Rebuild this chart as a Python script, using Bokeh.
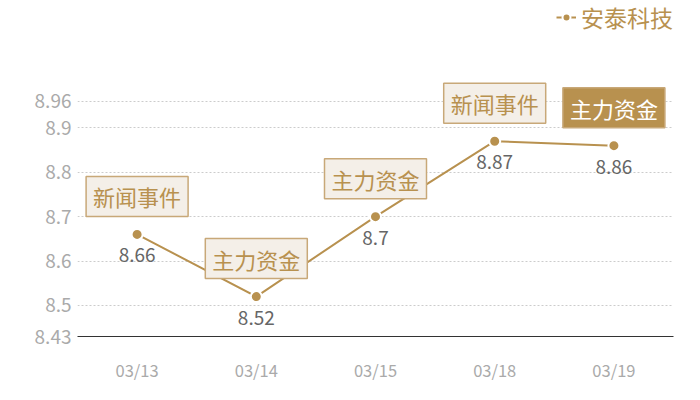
from bokeh.core.properties import value
from bokeh.embed import file_html
from bokeh.models import FixedTicker, Legend, LegendItem
from bokeh.plotting import figure
from bokeh.resources import INLINE

dates = ["03/13", "03/14", "03/15", "03/18", "03/19"]
prices = [8.66, 8.52, 8.7, 8.87, 8.86]
tags = ["新闻事件", "主力资金", "主力资金", "新闻事件", "主力资金"]
tag_fill = ["#f4efe8", "#f4efe8", "#f4efe8", "#f4efe8", "#b8914f"]
tag_text = ["#b8914f", "#b8914f", "#b8914f", "#b8914f", "#ffffff"]
yticks = [8.43, 8.5, 8.6, 8.7, 8.8, 8.9, 8.96]

gold = "#b8914f"
font = "Noto Sans CJK SC"

p = figure(x_range=dates, y_range=(8.43, 9.187), width=684, height=384,
           output_backend="svg", toolbar_location=None, tools="",
           min_border_left=77, min_border_right=11, min_border_top=0, min_border_bottom=31)
p.outline_line_color = None
p.x_range.range_padding = 0

p.xgrid.grid_line_color = None
p.ygrid.ticker = FixedTicker(ticks=yticks)
p.ygrid.grid_line_color = "#cccccc"
p.ygrid.grid_line_dash = "2 2"

p.yaxis.ticker = FixedTicker(ticks=yticks)
p.yaxis.major_label_overrides = {t: str(t) for t in yticks}
p.yaxis.axis_line_color = None
p.yaxis.major_tick_line_color = None
p.yaxis.minor_tick_line_color = None
p.yaxis.major_label_text_color = "#aaaaaa"
p.yaxis.major_label_text_font_size = "19px"
p.yaxis.major_label_text_font = font
p.yaxis.major_label_standoff = 0

p.xaxis.axis_line_color = "#333333"
p.xaxis.major_tick_line_color = None
p.xaxis.major_label_text_color = "#aaaaaa"
p.xaxis.major_label_text_font_size = "16.5px"
p.xaxis.major_label_text_font = font
p.xaxis.major_label_standoff = 15

ln = p.line(dates, prices, line_color=gold, line_width=2)
dots = p.scatter(dates, prices, size=11, fill_color=gold, line_color="white", line_width=2)

# value labels under each point
p.text(dates, prices, text=[str(v) for v in prices], y_offset=21,
       text_align="center", text_baseline="middle", text_color="#666666",
       text_font_size="19px", text_font=value(font))

# event tags above each point
p.text(dates, prices, text=tags, y_offset=-18,
       text_align="center", text_baseline="bottom", text_color=tag_text,
       text_font_size="22px", text_font=value(font),
       background_fill_color=tag_fill, border_line_color="#c8a878",
       border_line_width=1.5, padding=dict(left=7, right=7, top=4, bottom=4))

legend = Legend(items=[LegendItem(label="安泰科技", renderers=[ln, dots])],
                location="top_right", border_line_color=None, background_fill_alpha=0,
                label_text_font_size="23px", label_text_color=gold, label_text_font=font,
                glyph_width=20, label_standoff=5, padding=0, margin=0)
p.add_layout(legend)

open("out.html", "w").write(file_html(p, INLINE))
